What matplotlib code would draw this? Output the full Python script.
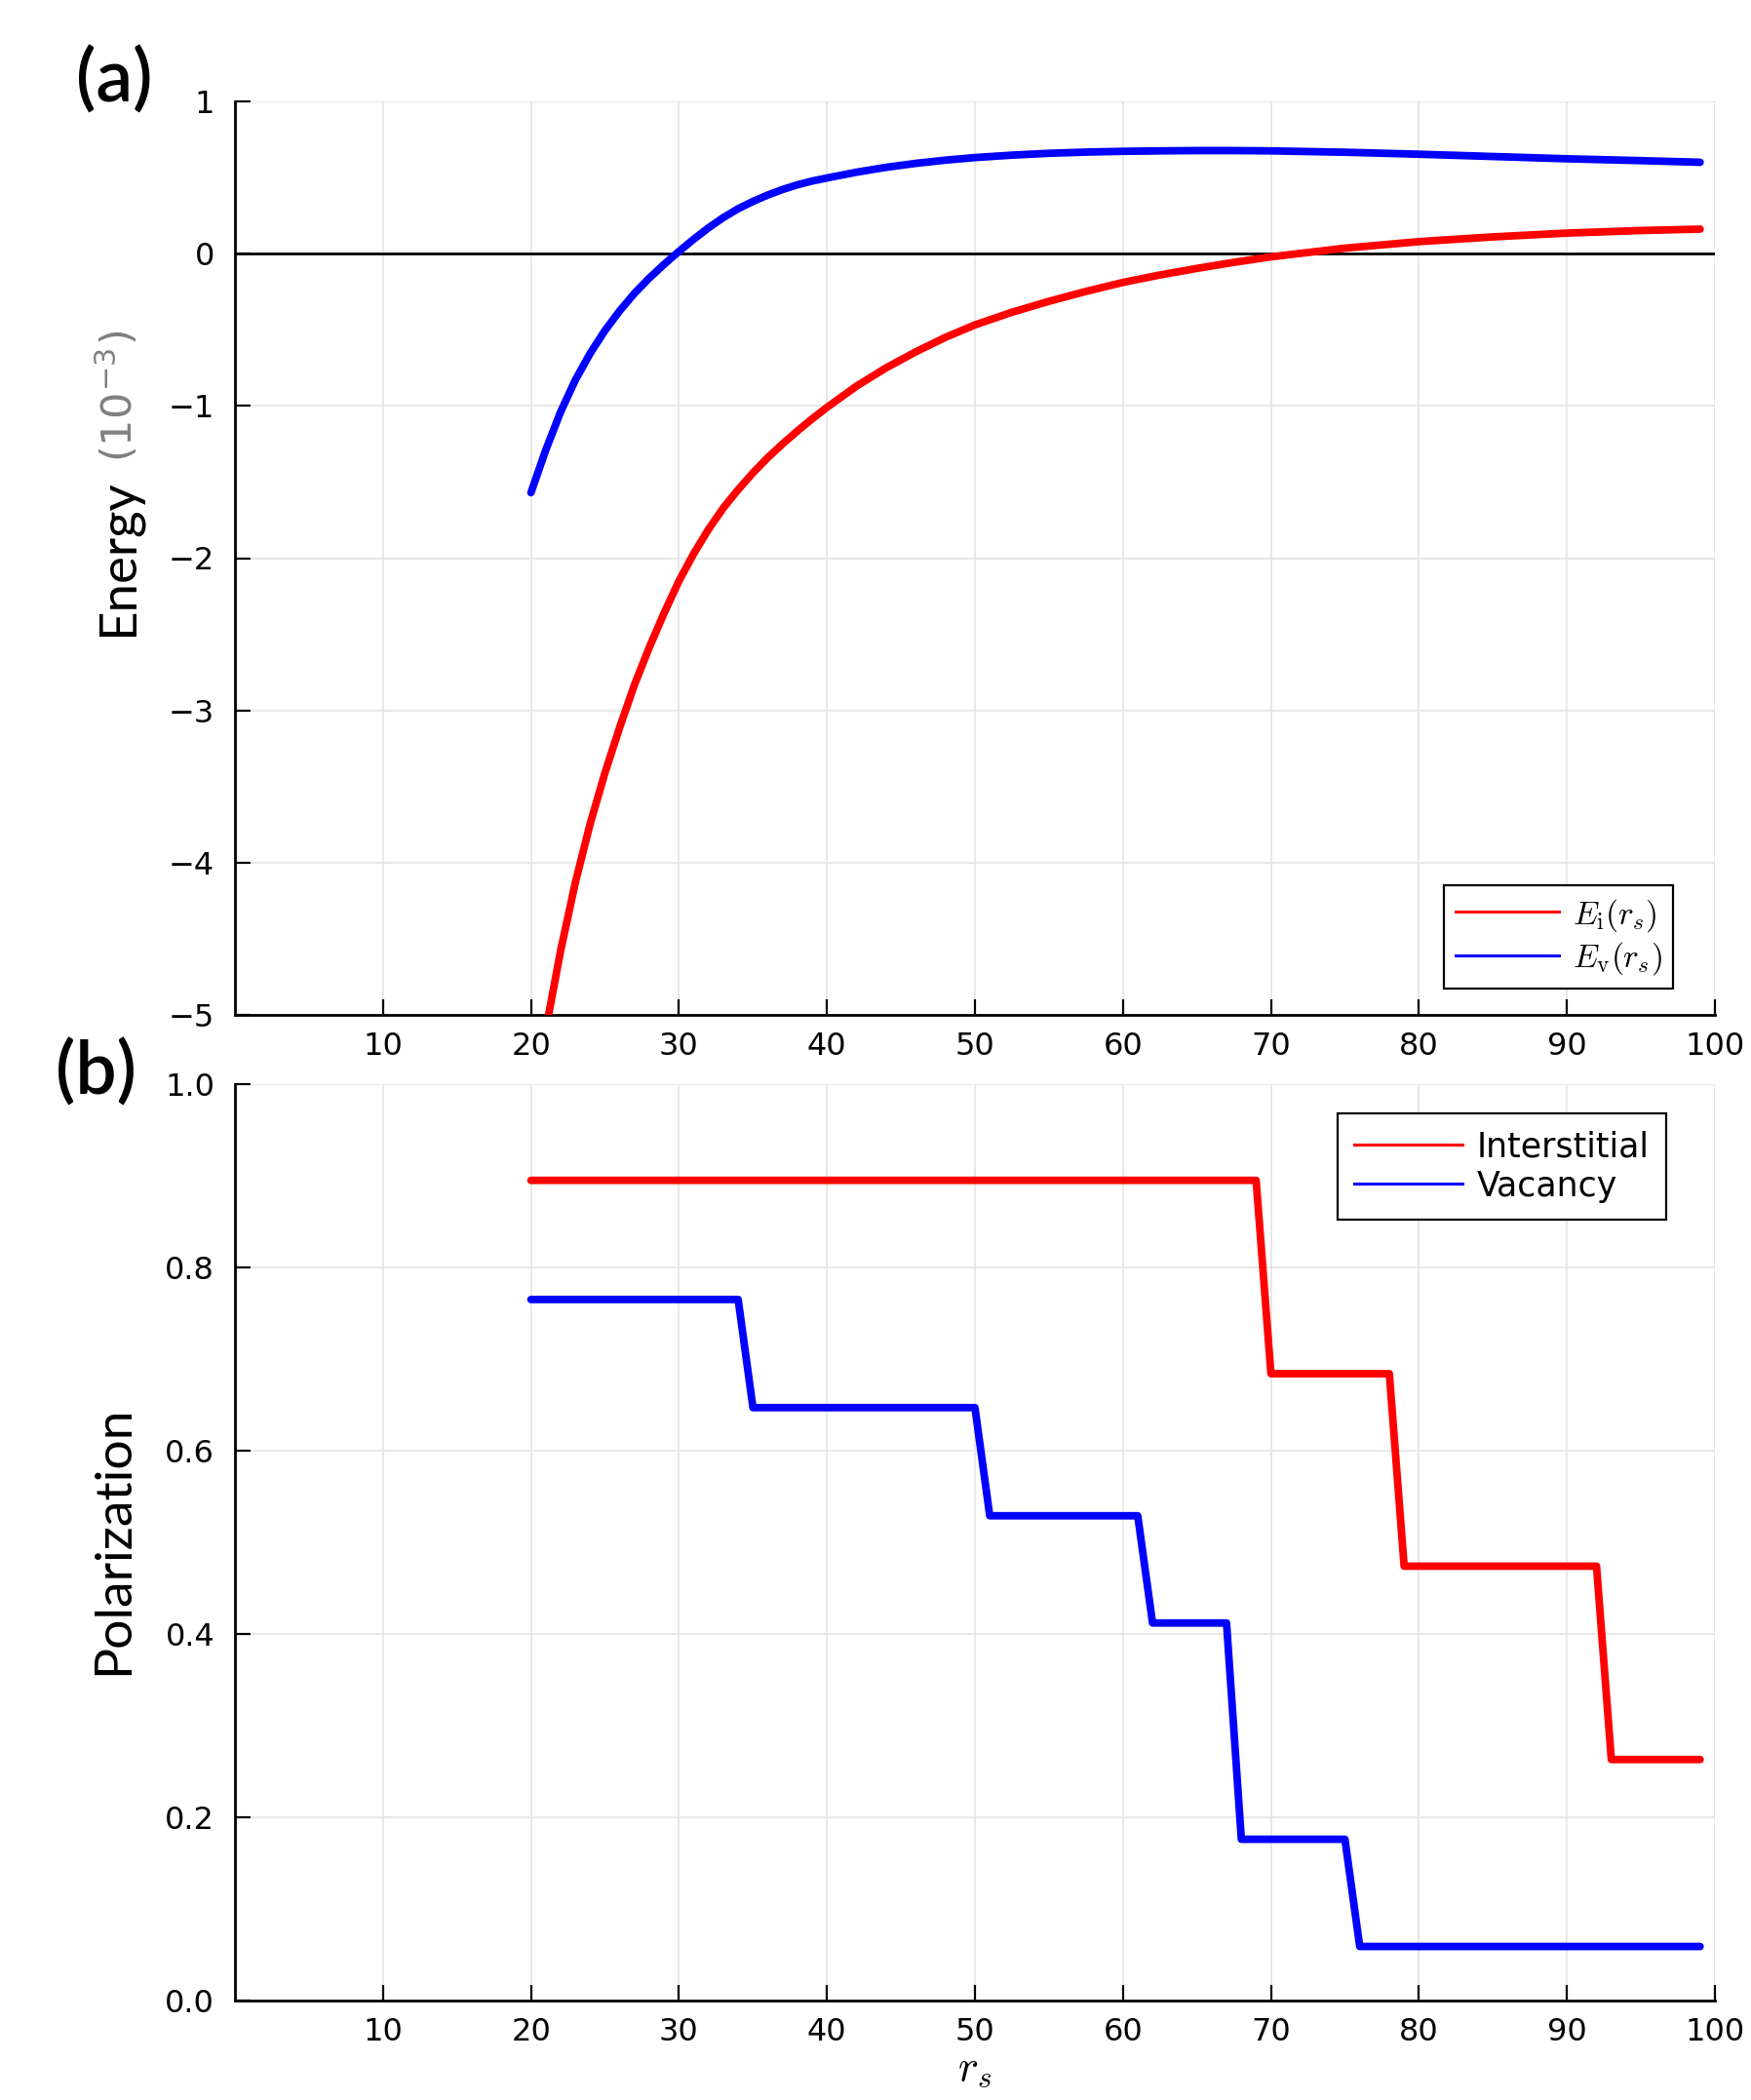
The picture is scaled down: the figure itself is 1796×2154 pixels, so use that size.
import matplotlib
matplotlib.use("Agg")
import matplotlib.pyplot as plt
import numpy as np
from matplotlib.lines import Line2D

# ---------------- data ----------------
rs_energy = [20, 21, 22, 23, 24, 25, 26, 27, 28, 29, 30, 31, 32, 33, 34, 35, 36, 37,
             38, 39, 40, 42, 44, 46, 48, 50, 52.5, 55, 57.5, 60, 62.5, 65, 67.5, 70,
             75, 80, 85, 90, 95, 99]
E_i = [-5.72, -5.10, -4.58, -4.13, -3.745, -3.41, -3.11, -2.83, -2.585, -2.36, -2.15,
       -1.97, -1.81, -1.67, -1.55, -1.44, -1.34, -1.25, -1.165, -1.085, -1.01,
       -0.87, -0.75, -0.645, -0.55, -0.468, -0.385, -0.313, -0.248, -0.189, -0.14,
       -0.097, -0.057, -0.021, 0.036, 0.079, 0.11, 0.135, 0.152, 0.161]
E_v = [-1.57, -1.29, -1.04, -0.83, -0.655, -0.505, -0.375, -0.26, -0.16, -0.07, 0.015,
       0.095, 0.17, 0.237, 0.295, 0.343, 0.385, 0.421, 0.452, 0.477, 0.497,
       0.535, 0.567, 0.593, 0.614, 0.631, 0.647, 0.659, 0.667, 0.672, 0.675,
       0.677, 0.677, 0.675, 0.666, 0.653, 0.638, 0.623, 0.611, 0.60]

rs_min, rs_max = 20, 99
int_starts = [20, 70, 79, 93]
int_levels = [0.895, 0.684, 0.474, 0.263]
vac_starts = [20, 35, 51, 62, 68, 76]
vac_levels = [0.765, 0.647, 0.529, 0.412, 0.176, 0.059]

xticks = [10, 20, 30, 40, 50, 60, 70, 80, 90, 100]
yticks_a = [-5, -4, -3, -2, -1, 0, 1]
yticks_b = [0.0, 0.2, 0.4, 0.6, 0.8, 1.0]

legend_a = [r"$E_{\rm i}(r_s)$", r"$E_{\rm v}(r_s)$"]
legend_b = ["Interstitial", "Vacancy"]


def expand_steps(starts, levels):
    r = np.arange(rs_min, rs_max + 1)
    idx = np.searchsorted(starts, r, side="right") - 1
    return r, np.asarray(levels)[idx]


# ---------------- figure ----------------
plt.rcParams["mathtext.fontset"] = "cm"
plt.rcParams["font.family"] = ["DejaVu Sans"]
plt.rcParams["axes.unicode_minus"] = True

W, H = 1796, 2154
fig = plt.figure(figsize=(W / 100, H / 100), dpi=100)


def rect(l, t, r, b):
    return [l / W, 1 - b / H, (r - l) / W, (b - t) / H]


ax1 = fig.add_axes(rect(241, 104, 1759, 1041))
ax2 = fig.add_axes(rect(241, 1112, 1759, 2052))

RED = "#ff0000"
BLUE = "#0000ff"
LW = 5.6

for ax in (ax1, ax2):
    for s in ("top", "right"):
        ax.spines[s].set_visible(False)
    for s in ("left", "bottom"):
        ax.spines[s].set_linewidth(2.0)
    ax.tick_params(direction="in", length=11.5, width=1.6, labelsize=23,
                   colors="black")
    ax.tick_params(axis="y", pad=15)
    ax.tick_params(axis="x", pad=12)
    ax.grid(True, color="#e4e4e4", linewidth=1.2)
    ax.set_axisbelow(True)
    ax.set_xlim(0, 100)
    ax.set_xticks(xticks)

# ---- panel (a) ----
ax1.axhline(0, color="black", linewidth=2.0, zorder=2)
ax1.plot(rs_energy, E_i, color=RED, lw=LW, solid_capstyle="round",
         solid_joinstyle="round", zorder=3)
ax1.plot(rs_energy, E_v, color=BLUE, lw=LW, solid_capstyle="round",
         solid_joinstyle="round", zorder=3)
ax1.set_ylim(-5, 1)
ax1.set_yticks(yticks_a)
ax1.set_yticklabels([f"{v:d}".replace("-", "\u2212") for v in yticks_a])

handles_a = [Line2D([], [], color=RED, lw=2.2), Line2D([], [], color=BLUE, lw=2.2)]
leg1 = ax1.legend(handles_a, legend_a, loc="upper left",
                  bbox_to_anchor=(1481 / W, 1 - 908 / H), bbox_transform=fig.transFigure,
                  fontsize=24, frameon=True, fancybox=False, framealpha=1,
                  edgecolor="black", borderpad=0.35, labelspacing=0.2,
                  handlelength=3.2, handletextpad=0.4, borderaxespad=0)
leg1.get_frame().set_linewidth(1.6)

# ---- panel (b) ----
r_i, p_i = expand_steps(int_starts, int_levels)
r_v, p_v = expand_steps(vac_starts, vac_levels)
ax2.plot(r_i, p_i, color=RED, lw=LW, solid_capstyle="round",
         solid_joinstyle="round", zorder=3)
ax2.plot(r_v, p_v, color=BLUE, lw=LW, solid_capstyle="round",
         solid_joinstyle="round", zorder=3)
ax2.set_ylim(0, 1)
ax2.set_yticks(yticks_b)
ax2.set_yticklabels([f"{v:.1f}" for v in yticks_b])
ax2.set_xlabel(r"$r_s$", fontsize=32, labelpad=0)

handles_b = [Line2D([], [], color=RED, lw=2.2), Line2D([], [], color=BLUE, lw=2.2)]
leg2 = ax2.legend(handles_b, legend_b, loc="upper left",
                  bbox_to_anchor=(1372 / W, 1 - 1142 / H), bbox_transform=fig.transFigure,
                  fontsize=25, frameon=True, fancybox=False, framealpha=1,
                  edgecolor="black", borderpad=0.5, labelspacing=0.18,
                  handlelength=3.2, handletextpad=0.4, borderaxespad=0)
leg2.get_frame().set_linewidth(1.6)

# ---- labels ----
fig.text(121 / W, 1 - 572 / H, "Energy", rotation=90, ha="center", va="center",
         fontsize=38, family=["Lato", "DejaVu Sans"], color="black")
fig.text(121 / W, 1 - 406 / H, r"(10$^{\mathregular{-3}}$)", rotation=90,
         ha="center", va="center", fontsize=31, color="#808080")
fig.text(117 / W, 1 - 1580 / H, "Polarization", rotation=90, ha="center",
         va="center", fontsize=38.5, family=["Lato", "DejaVu Sans"], color="black")

fig.text(117 / W, 1 - 82 / H, "(a)", ha="center", va="center", fontsize=54,
         fontweight="semibold", family=["Lato", "DejaVu Sans"])
fig.text(99 / W, 1 - 1100 / H, "(b)", ha="center", va="center", fontsize=54,
         fontweight="semibold", family=["Lato", "DejaVu Sans"])

fig.savefig("out.png", dpi=100, facecolor="white")
